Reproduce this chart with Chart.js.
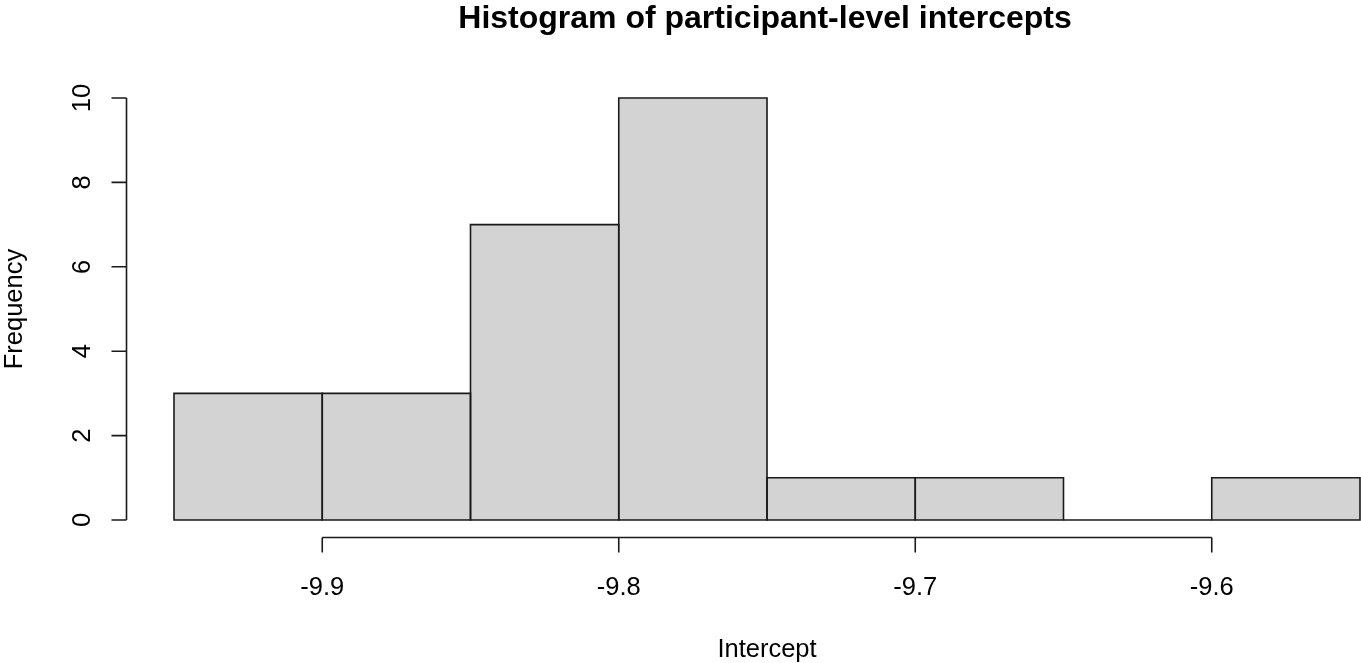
<!DOCTYPE html>
<html>
<head>
<meta charset="utf-8">
<script src="https://cdn.jsdelivr.net/npm/chart.js@4/dist/chart.umd.min.js"></script>
<style>
  html, body { margin: 0; padding: 0; background: #ffffff; }
  canvas { display: block; }
</style>
</head>
<body>
<canvas id="hist" width="1361" height="663"></canvas>
<script>
// Histogram bins (width 0.05) and their counts
const binStarts = [-9.95, -9.90, -9.85, -9.80, -9.75, -9.70, -9.65, -9.60];
const binWidth = 0.05;
const counts = [3, 3, 7, 10, 1, 1, 0, 1];
const xTicks = [-9.9, -9.8, -9.7, -9.6];
const yTicks = [0, 2, 4, 6, 8, 10];
const xTickLabels = ['-9.9', '-9.8', '-9.7', '-9.6'];

const titleText = 'Histogram of participant-level intercepts';
const xTitle = 'Intercept';
const yTitle = 'Frequency';

const FONT = '"Liberation Sans", Arial, Helvetica, sans-serif';
const INK = '#1a1a1a';
const LW = 1.6;

const xMin = binStarts[0];
const xMax = binStarts[binStarts.length - 1] + binWidth;
const yMax = 10;

const barData = binStarts.map((s, i) => ({ x: s + binWidth / 2, y: counts[i] }));

// Outlines every bin (empty ones as a flat line) centred on its edges
const binOutlines = {
  id: 'binOutlines',
  afterDatasetsDraw(chart) {
    const { ctx } = chart;
    const meta = chart.getDatasetMeta(0);
    ctx.save();
    ctx.strokeStyle = INK;
    ctx.lineWidth = LW;
    meta.data.forEach(bar => {
      const p = bar.getProps(['x', 'y', 'base', 'width'], true);
      const l = p.x - p.width / 2, r = p.x + p.width / 2;
      ctx.beginPath();
      if (p.base - p.y < 0.5) {
        ctx.moveTo(l, p.base);
        ctx.lineTo(r, p.base);
      } else {
        ctx.rect(l, p.y, r - l, p.base - p.y);
      }
      ctx.stroke();
    });
    ctx.restore();
  }
};

// Draws R-style detached axes and titles
const baseGraphics = {
  id: 'baseGraphics',
  afterDraw(chart) {
    const { ctx } = chart;
    const xs = chart.scales.x;
    const ys = chart.scales.y;
    const xr = xMax - xMin;
    const axisLeft = xs.getPixelForValue(xMin - 0.04 * xr);
    const axisBottom = ys.getPixelForValue(-0.04 * yMax);
    const tick = 15;

    ctx.save();
    ctx.strokeStyle = INK;
    ctx.lineWidth = LW;
    ctx.fillStyle = '#000';

    // x axis
    const ax = Math.round(axisBottom) + 0.5;
    ctx.beginPath();
    ctx.moveTo(xs.getPixelForValue(xTicks[0]), ax);
    ctx.lineTo(xs.getPixelForValue(xTicks[xTicks.length - 1]), ax);
    xTicks.forEach(v => {
      const px = xs.getPixelForValue(v);
      ctx.moveTo(px, ax);
      ctx.lineTo(px, ax + tick);
    });
    ctx.stroke();

    ctx.font = '25.5px ' + FONT;
    ctx.textAlign = 'center';
    ctx.textBaseline = 'alphabetic';
    xTicks.forEach((v, i) => {
      ctx.fillText(xTickLabels[i], xs.getPixelForValue(v), ax + 57);
    });

    // y axis
    const ay = Math.round(axisLeft) - 0.5;
    ctx.beginPath();
    ctx.moveTo(ay, ys.getPixelForValue(yTicks[0]));
    ctx.lineTo(ay, ys.getPixelForValue(yTicks[yTicks.length - 1]));
    yTicks.forEach(v => {
      const py = ys.getPixelForValue(v);
      ctx.moveTo(ay, py);
      ctx.lineTo(ay - tick, py);
    });
    ctx.stroke();

    yTicks.forEach(v => {
      ctx.save();
      ctx.translate(ay - 37, ys.getPixelForValue(v));
      ctx.rotate(-Math.PI / 2);
      ctx.fillText(String(v), 0, 0);
      ctx.restore();
    });

    // axis titles
    const plotCenterX = (xs.getPixelForValue(xMin - 0.04 * xr) + xs.getPixelForValue(xMax + 0.04 * xr)) / 2;
    ctx.fillText(xTitle, plotCenterX, 657);

    ctx.save();
    ctx.translate(22, (ys.getPixelForValue(-0.04 * yMax) + ys.getPixelForValue(yMax * 1.04)) / 2);
    ctx.rotate(-Math.PI / 2);
    ctx.fillText(yTitle, 0, 0);
    ctx.restore();

    // main title
    ctx.font = 'bold 32px ' + FONT;
    ctx.fillText(titleText, plotCenterX - 2, 28);

    ctx.restore();
  }
};

new Chart(document.getElementById('hist'), {
  type: 'bar',
  data: {
    datasets: [{
      data: barData,
      backgroundColor: '#d3d3d3',
      borderWidth: 0,
      barPercentage: 1.0,
      categoryPercentage: 1.0
    }]
  },
  options: {
    responsive: false,
    animation: false,
    events: [],
    layout: { padding: { left: 174, right: 1, top: 98, bottom: 143 } },
    plugins: {
      legend: { display: false },
      tooltip: { enabled: false },
      title: { display: false }
    },
    scales: {
      x: {
        type: 'linear',
        min: xMin,
        max: xMax,
        offset: false,
        display: false
      },
      y: {
        min: 0,
        max: yMax,
        display: false
      }
    }
  },
  plugins: [binOutlines, baseGraphics]
});
</script>
</body>
</html>
